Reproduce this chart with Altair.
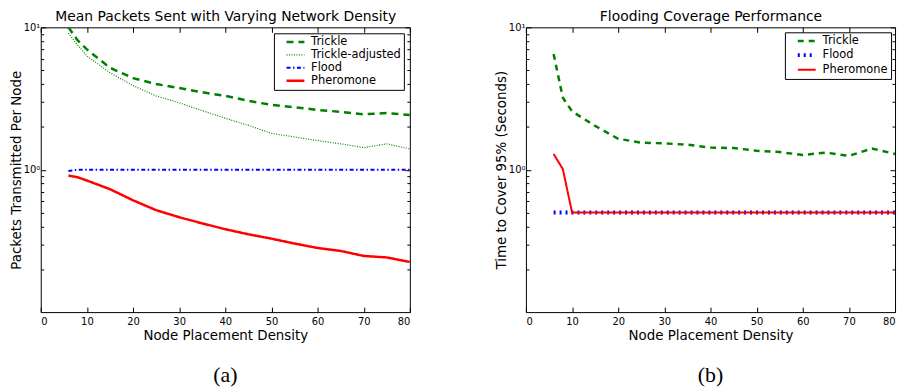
import altair as alt
import pandas as pd

density = [6, 8, 10, 15, 20, 25, 30, 35, 40, 45, 50, 55, 60, 65, 70, 75, 80]

a_trickle = [10.0, 8.1, 7.0, 5.2, 4.4, 4.0, 3.75, 3.5, 3.3, 3.05, 2.85, 2.75, 2.63, 2.55, 2.45, 2.5, 2.42]
a_trickle_adj = [9.1, 7.5, 6.3, 4.8, 3.9, 3.3, 2.95, 2.6, 2.3, 2.05, 1.8, 1.7, 1.6, 1.52, 1.43, 1.52, 1.40]
a_flood = [0.98, 1.0, 1.0, 1.0, 1.0, 1.0, 1.0, 1.0, 1.0, 1.0, 1.0, 1.0, 1.0, 1.0, 1.0, 1.0, 1.0]
a_pheromone = [0.91, 0.885, 0.84, 0.73, 0.61, 0.52, 0.464, 0.42, 0.382, 0.352, 0.328, 0.303, 0.282, 0.269, 0.248, 0.242, 0.225]

b_trickle = [6.5, 3.2, 2.57, 2.03, 1.65, 1.55, 1.53, 1.5, 1.43, 1.42, 1.36, 1.33, 1.27, 1.32, 1.25, 1.41, 1.29]
b_flood = [0.5, 0.5, 0.5, 0.5, 0.5, 0.5, 0.5, 0.5, 0.5, 0.5, 0.5, 0.5, 0.5, 0.5, 0.5, 0.5, 0.5]
b_pheromone = [1.29, 1.01, 0.5, 0.5, 0.5, 0.5, 0.5, 0.5, 0.5, 0.5, 0.5, 0.5, 0.5, 0.5, 0.5, 0.5, 0.5]

a_series = ["Trickle", "Trickle-adjusted", "Flood", "Pheromone"]
b_series = ["Trickle", "Flood", "Pheromone"]

x_ticks = [0, 10, 20, 30, 40, 50, 60, 70, 80]
y_major = [1, 10]
y_minor = [0.2, 0.3, 0.4, 0.5, 0.6, 0.7, 0.8, 0.9, 2, 3, 4, 5, 6, 7, 8, 9]


def long_df(names, columns):
    rows = []
    for name, vals in zip(names, columns):
        for d, v in zip(density, vals):
            rows.append({"density": d, "value": v, "series": name})
    return pd.DataFrame(rows)


df_a = long_df(a_series, [a_trickle, a_trickle_adj, a_flood, a_pheromone])
df_b = long_df(b_series, [b_trickle, b_flood, b_pheromone])

LABEL_EXPR = "datum.value == 1 ? '10\u2070' : (datum.value == 10 ? '10\u00b9' : '')"


def panel(df, order, colors, dashes, widths, top_title, y_title, tag, leg_offset):
    xs = alt.Scale(domain=[0, 80], nice=False, zero=False)
    ys = alt.Scale(type="log", domain=[0.1, 10], nice=False)
    base = alt.Chart(df)
    legend = alt.Legend(
        title=None, orient="top-right", offset=leg_offset,
        strokeColor="black", fillColor="white", padding=3, cornerRadius=0,
        symbolType="M-2.25,0L2.25,0", symbolSize=64, symbolOffset=13,
        labelOffset=10, labelFontSize=11.5, labelFont="DejaVu Sans",
        labelColor="black", rowPadding=0,
        labelExpr="datum.label + '\u00a0\u00a0'",
    )
    lines = base.mark_line(clip=True, strokeCap="butt").encode(
        x=alt.X("density:Q", scale=xs,
                axis=alt.Axis(orient="bottom", values=x_ticks, ticks=False, domain=False,
                              grid=False, labelPadding=5, title="Node Placement Density",
                              titlePadding=2)),
        y=alt.Y("value:Q", scale=ys,
                axis=alt.Axis(orient="left", values=y_major, labelExpr=LABEL_EXPR,
                              ticks=False, domain=False, grid=False, labelPadding=1,
                              title=y_title, titlePadding=0)),
        color=alt.Color("series:N", scale=alt.Scale(domain=order, range=colors), legend=legend),
        strokeDash=alt.StrokeDash("series:N", scale=alt.Scale(domain=order, range=dashes), legend=legend),
        strokeWidth=alt.StrokeWidth("series:N", scale=alt.Scale(type="ordinal", domain=order, range=widths), legend=legend),
    )

    def ticks(xaxis, yaxis):
        return base.mark_point(opacity=0).encode(
            x=alt.X("density:Q", scale=xs, axis=xaxis),
            y=alt.Y("value:Q", scale=ys, axis=yaxis),
        )

    def tick_axis(orient, values, size, title=None):
        kw = dict(orient=orient, values=values, offset=-size, tickSize=size, labels=False,
                  domain=False, grid=False, tickColor="black", tickWidth=1)
        if title is not None:
            kw.update(title=title, titlePadding=3, titleFontSize=14)
        else:
            kw.update(title=None)
        return alt.Axis(**kw)

    l2 = ticks(tick_axis("bottom", x_ticks, 5), tick_axis("left", y_major, 5))
    l3 = ticks(tick_axis("top", x_ticks, 5, top_title), tick_axis("right", y_major, 5))
    l4 = ticks(None, tick_axis("left", y_minor, 3))
    l5 = ticks(None, tick_axis("right", y_minor, 3))

    return alt.layer(lines, l2, l3, l4, l5).resolve_axis(
        x="independent", y="independent"
    ).properties(
        width=372, height=287,
        title=alt.TitleParams(tag, orient="bottom", font="Liberation Serif", fontSize=22,
                              fontWeight="normal", offset=23, anchor="middle", color="black"),
    )


pa = panel(
    df_a, a_series,
    ["#008000", "#008000", "#0000ff", "#ff0000"],
    [[7, 5], [1, 1.5], [4, 2.5, 1.5, 2.5], [1, 0]],
    [2.5, 1.2, 2, 2.5],
    "Mean Packets Sent with Varying Network Density",
    "Packets Transmitted Per Node", "(a)", 6,
)

pb = panel(
    df_b, b_series,
    ["#008000", "#0000ff", "#ff0000"],
    [[6, 5], [2, 4], [1, 0]],
    [2.5, 4, 2],
    "Flooding Coverage Performance",
    "Time to Cover 95% (Seconds)", "(b)", 4.5,
)

chart = alt.hconcat(
    pa, pb, spacing=80, background="white", padding=0,
).resolve_scale(
    x="independent", y="independent", color="independent",
    strokeDash="independent", strokeWidth="independent",
).configure_view(
    stroke="black", strokeWidth=1
).configure_axis(
    labelFont="DejaVu Sans", labelFontSize=10, labelColor="black",
    titleFont="DejaVu Sans", titleFontSize=13.5, titleFontWeight="normal", titleColor="black",
    tickColor="black",
)

chart.save("out.html", embed_options={"renderer": "svg", "actions": False})
